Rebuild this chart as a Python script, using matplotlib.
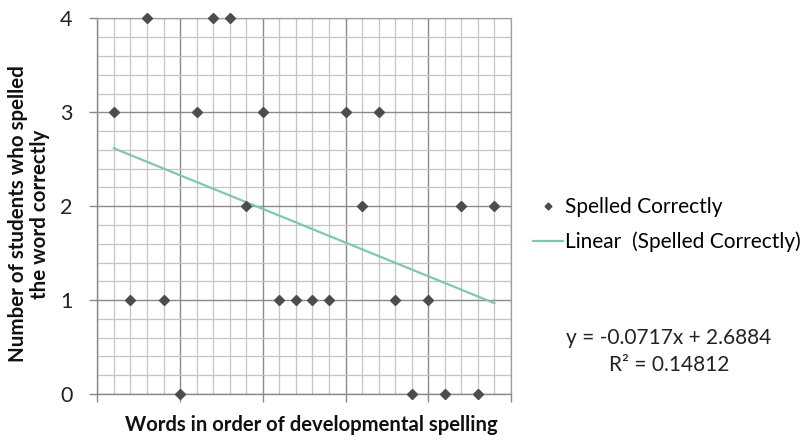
import matplotlib
matplotlib.use("Agg")
import matplotlib.pyplot as plt
import numpy as np
from matplotlib.ticker import MultipleLocator, NullFormatter
from matplotlib.lines import Line2D

words = list(range(1, 25))
spelled_correctly = [3, 1, 4, 1, 0, 3, 4, 4, 2, 3, 1, 1, 1, 1, 3, 2, 3, 1, 0, 1, 0, 2, 0, 2]
trend_slope = -0.0717
trend_intercept = 2.6884
r_squared = 0.14812
y_ticks = [0, 1, 2, 3, 4]

FONT = ["Lato", "DejaVu Sans"]
plt.rcParams['font.family'] = FONT

W, H = 807, 440
fig = plt.figure(figsize=(W / 100, H / 100), dpi=100)
ax = fig.add_axes([0.1207, 0.1045, 0.5125, 0.8535])

ax.set_xlim(0, 25)
ax.set_ylim(0, 4)

ax.xaxis.set_major_locator(MultipleLocator(5))
ax.xaxis.set_minor_locator(MultipleLocator(1))
ax.yaxis.set_major_locator(MultipleLocator(1))
ax.yaxis.set_minor_locator(MultipleLocator(0.2))
ax.set_yticks(y_ticks)
ax.xaxis.set_major_formatter(NullFormatter())

ax.grid(which='major', color='#8a8a8a', linewidth=1.0, zorder=0)
ax.grid(which='minor', color='#c4c4c4', linewidth=0.9, zorder=0)
ax.set_axisbelow(True)

for s in ['top', 'right']:
    ax.spines[s].set_color('#a0a0a0')
    ax.spines[s].set_linewidth(0.9)
for s in ['left', 'bottom']:
    ax.spines[s].set_color('#8a8a8a')
    ax.spines[s].set_linewidth(1.0)

ax.tick_params(which='major', direction='out', length=6, color='#8a8a8a', width=1.0,
               labelsize=15.5, labelcolor='#222222', pad=12)
ax.tick_params(which='minor', length=0)

ax.plot(words, spelled_correctly, linestyle='none', marker='D', markersize=5,
        color='#4d4d4d', zorder=3, clip_on=False)

xt = np.array([words[0], words[-1]])
ax.plot(xt, trend_slope * xt + trend_intercept, color='#7ecaa6', linewidth=1.6, zorder=2)

fig.text(29 / W, 1 - 214 / H, "Number of students who spelled\nthe word correctly",
         rotation=90, ha='center', va='center', fontsize=14.8, fontweight='bold',
         linespacing=1.1, color='#111111')
fig.text(311 / W, 1 - 425 / H, "Words in order of developmental spelling",
         ha='center', va='center', fontsize=14.6, fontweight='bold', color='#111111')

handles = [
    Line2D([], [], linestyle='none', marker='D', markersize=3.5, color='#4d4d4d'),
    Line2D([], [], color='#7ecaa6', linewidth=1.6),
]
fig.legend(handles, ["Spelled Correctly", "Linear  (Spelled Correctly)"],
           loc='upper left', bbox_to_anchor=(533 / W, 1 - 197 / H), frameon=False,
           fontsize=15, handlelength=1.45, handletextpad=0.1, labelspacing=0.7,
           borderaxespad=0, borderpad=0)

fig.text(669 / W, 1 - 338 / H, f"y = {trend_slope:.4f}x + {trend_intercept:.4f}",
         ha='center', va='center', fontsize=15, color='#222222')
fig.text(669 / W, 1 - 365 / H, f"R² = {r_squared:.5f}",
         ha='center', va='center', fontsize=15, color='#222222')

fig.savefig("out.png", dpi=100)
